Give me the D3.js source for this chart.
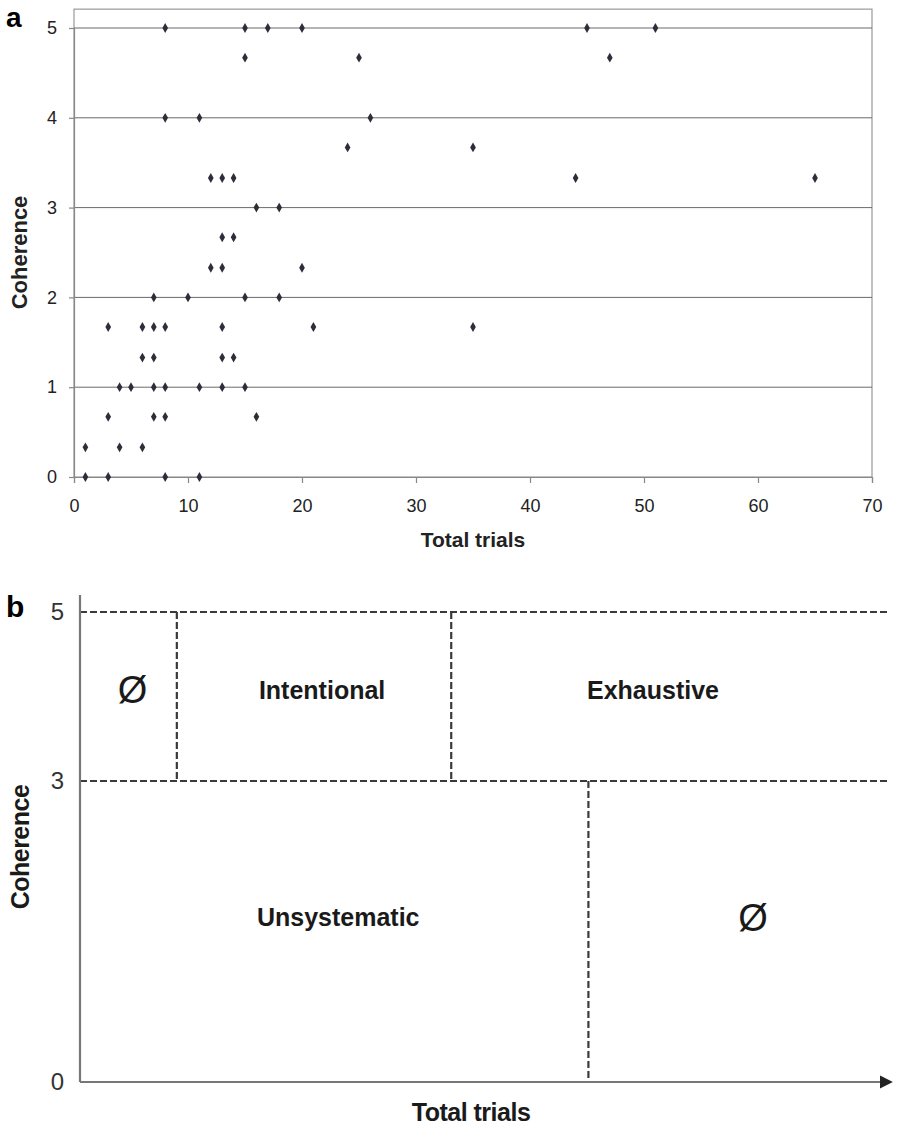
<!DOCTYPE html>
<html>
<head>
<meta charset="utf-8">
<script src="https://cdn.jsdelivr.net/npm/d3@7"></script>
<style>
  body { margin: 0; background: #fff; }
  svg { display: block; font-family: "Liberation Sans", Arial, sans-serif; }
</style>
</head>
<body>
<script>
	// panel a data: one point per subject (total trials, coherence)
	var trials = [8, 15, 17, 20, 45, 51,
		15, 25, 47,
		8, 11, 26,
		24, 35,
		12, 13, 14, 44, 65,
		16, 18,
		13, 14,
		12, 13, 20,
		7, 10, 15, 18,
		3, 6, 7, 8, 13, 21, 35,
		6, 7, 13, 14,
		4, 5, 7, 8, 11, 13, 15,
		3, 7, 8, 16,
		1, 4, 6,
		1, 3, 8, 11];
	var coherence = [5, 5, 5, 5, 5, 5,
		4.67, 4.67, 4.67,
		4, 4, 4,
		3.67, 3.67,
		3.33, 3.33, 3.33, 3.33, 3.33,
		3, 3,
		2.67, 2.67,
		2.33, 2.33, 2.33,
		2, 2, 2, 2,
		1.67, 1.67, 1.67, 1.67, 1.67, 1.67, 1.67,
		1.33, 1.33, 1.33, 1.33,
		1, 1, 1, 1, 1, 1, 1,
		0.67, 0.67, 0.67, 0.67,
		0.33, 0.33, 0.33,
		0, 0, 0, 0];
	var xTicksA = [0, 10, 20, 30, 40, 50, 60, 70];
	var yTicksA = [0, 1, 2, 3, 4, 5];

	// panel b: schematic regions
	var yTicksB = [0, 3, 5];
	var trialCuts = [12, 46, 63];   // vertical dashed boundaries (schematic units 0-100)
	var regionLabels = ["Ø", "Intentional", "Exhaustive", "Unsystematic", "Ø"];
	var regionX = [6.5, 30, 71, 32, 83.4];
	var regionY = [4.08, 4.08, 4.08, 1.64, 1.64];

	var w = 901;
	var h = 1126;

	var svg = d3.select("body")
		.append("svg")
		.attr("width", w)
		.attr("height", h);

	// ---------- panel a ----------
	var xA = d3.scaleLinear().domain([0, 70]).range([74, 872]);
	var yA = d3.scaleLinear().domain([0, 5]).range([477, 28]);

	var a = svg.append("g");

	// plot box
	a.append("rect")
		.attr("x", xA(0))
		.attr("y", yA(5.21))
		.attr("width", xA(70) - xA(0))
		.attr("height", yA(0) - yA(5.21))
		.attr("fill", "none")
		.attr("stroke", "#999")
		.attr("stroke-width", 1.2);

	// gridlines
	a.selectAll("line.grid")
		.data(yTicksA.filter(function(d) { return d > 0; }))
		.enter()
		.append("line")
		.attr("class", "grid")
		.attr("x1", xA(0))
		.attr("x2", xA(70))
		.attr("y1", function(d) { return yA(d); })
		.attr("y2", function(d) { return yA(d); })
		.attr("stroke", "#6a6a6a")
		.attr("stroke-width", 1);

	var yAxisA = d3.axisLeft(yA)
		.tickValues(yTicksA)
		.tickFormat(d3.format("d"))
		.tickSize(5)
		.tickPadding(12);
	var yGuideA = a.append("g")
		.attr("transform", "translate(" + xA(0) + ",0)")
		.call(yAxisA);

	var xAxisA = d3.axisBottom(xA)
		.tickValues(xTicksA)
		.tickFormat(d3.format("d"))
		.tickSize(6)
		.tickPadding(16);
	var xGuideA = a.append("g")
		.attr("transform", "translate(0," + yA(0) + ")")
		.call(xAxisA);

	[yGuideA, xGuideA].forEach(function(g) {
		g.select(".domain").attr("stroke", "#888").attr("stroke-width", 1.2);
		g.selectAll(".tick line").attr("stroke", "#888").attr("stroke-width", 1.2);
		g.selectAll(".tick text")
			.attr("fill", "#222")
			.style("font-size", "18px")
			.style("font-family", "'Liberation Sans', Arial, sans-serif");
	});

	// points
	a.selectAll("path.pt")
		.data(trials)
		.enter()
		.append("path")
		.attr("class", "pt")
		.attr("d", d3.symbol().type(d3.symbolDiamond).size(28))
		.attr("transform", function(d, i) {
			return "translate(" + xA(d) + "," + yA(coherence[i]) + ")";
		})
		.attr("fill", "#2e2e3a");

	a.append("text")
		.attr("x", 6)
		.attr("y", 27)
		.attr("font-size", "28px")
		.attr("font-weight", "bold")
		.text("a");

	a.append("text")
		.attr("x", (xA(0) + xA(70)) / 2)
		.attr("y", 547)
		.attr("text-anchor", "middle")
		.attr("font-size", "21px")
		.attr("font-weight", "bold")
		.attr("fill", "#222")
		.text("Total trials");

	a.append("text")
		.attr("transform", "translate(27," + (yA(0) + yA(5)) / 2 + ") rotate(-90)")
		.attr("text-anchor", "middle")
		.attr("font-size", "22px")
		.attr("font-weight", "bold")
		.attr("fill", "#222")
		.text("Coherence");

	// ---------- panel b ----------
	var xB = d3.scaleLinear().domain([0, 100]).range([80, 887]);
	var yB = d3.scaleLinear().domain([0, 3, 5]).range([1082, 781, 612]);

	var b = svg.append("g");

	var dashStyle = function(sel) {
		sel.attr("stroke", "#3a3a3a")
			.attr("stroke-width", 2.2)
			.attr("stroke-dasharray", "7,3")
			.attr("fill", "none");
	};

	// horizontal dashed lines at 5 and 3
	b.selectAll("line.hdash")
		.data([5, 3])
		.enter()
		.append("line")
		.attr("class", "hdash")
		.attr("x1", xB(0))
		.attr("x2", xB(100))
		.attr("y1", function(d) { return yB(d); })
		.attr("y2", function(d) { return yB(d); })
		.call(dashStyle);

	// vertical dashed boundaries
	b.selectAll("line.vdash")
		.data(trialCuts)
		.enter()
		.append("line")
		.attr("class", "vdash")
		.attr("x1", function(d) { return xB(d); })
		.attr("x2", function(d) { return xB(d); })
		.attr("y1", function(d, i) { return i < 2 ? yB(5) : yB(3); })
		.attr("y2", function(d, i) { return i < 2 ? yB(3) : yB(0); })
		.call(dashStyle);

	// arrow marker
	svg.append("defs").append("marker")
		.attr("id", "arrow")
		.attr("viewBox", "0 0 10 10")
		.attr("refX", 1)
		.attr("refY", 5)
		.attr("markerWidth", 6)
		.attr("markerHeight", 6)
		.attr("markerUnits", "strokeWidth")
		.attr("orient", "auto")
		.append("path")
		.attr("d", "M0,0L10,5L0,10Z")
		.attr("fill", "#222");

	// axes
	b.append("line")
		.attr("x1", xB(0))
		.attr("x2", xB(0))
		.attr("y1", 595)
		.attr("y2", yB(0))
		.attr("stroke", "#777")
		.attr("stroke-width", 2.2);
	b.append("line")
		.attr("x1", xB(0))
		.attr("x2", 881)
		.attr("y1", yB(0))
		.attr("y2", yB(0))
		.attr("stroke", "#777")
		.attr("stroke-width", 2.2)
		.attr("marker-end", "url(#arrow)");

	b.selectAll("text.ytb")
		.data(yTicksB)
		.enter()
		.append("text")
		.attr("class", "ytb")
		.attr("x", 64)
		.attr("y", function(d) { return yB(d); })
		.attr("dy", "0.33em")
		.attr("text-anchor", "end")
		.attr("font-size", "24px")
		.attr("fill", "#333")
		.text(function(d) { return d; });

	b.selectAll("text.region")
		.data(regionLabels)
		.enter()
		.append("text")
		.attr("class", "region")
		.attr("x", function(d, i) { return xB(regionX[i]); })
		.attr("y", function(d, i) { return yB(regionY[i]); })
		.attr("dy", "0.36em")
		.attr("text-anchor", "middle")
		.attr("font-size", function(d) { return d === "Ø" ? "38px" : "25px"; })
		.attr("font-weight", function(d) { return d === "Ø" ? "normal" : "bold"; })
		.attr("fill", "#1a1a1a")
		.text(function(d) { return d; });

	b.append("text")
		.attr("x", 6)
		.attr("y", 617)
		.attr("font-size", "30px")
		.attr("font-weight", "bold")
		.text("b");

	b.append("text")
		.attr("x", 471)
		.attr("y", 1121)
		.attr("text-anchor", "middle")
		.attr("font-size", "25px")
		.attr("font-weight", "bold")
		.attr("letter-spacing", "-0.5px")
		.attr("fill", "#1a1a1a")
		.text("Total trials");

	b.append("text")
		.attr("transform", "translate(29,847) rotate(-90)")
		.attr("text-anchor", "middle")
		.attr("font-size", "25px")
		.attr("font-weight", "bold")
		.attr("letter-spacing", "-0.5px")
		.attr("fill", "#1a1a1a")
		.text("Coherence");
</script>
</body>
</html>
